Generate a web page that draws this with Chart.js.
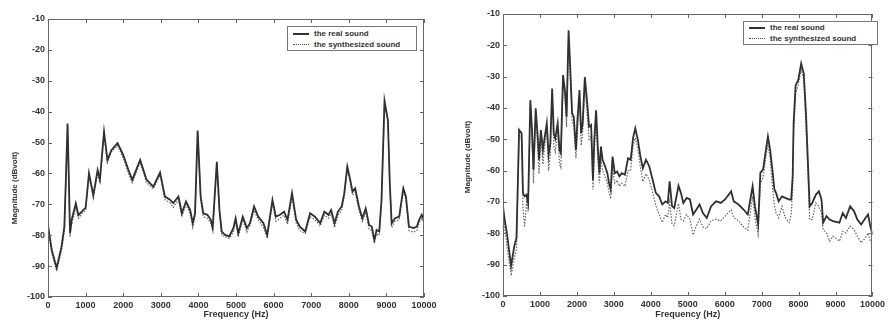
<!DOCTYPE html>
<html>
<head>
<meta charset="utf-8">
<script src="https://cdn.jsdelivr.net/npm/chart.js@4.4.0/dist/chart.umd.min.js"></script>
<style>
  body { margin: 0; background: #fff; width: 888px; height: 320px; overflow: hidden; position: relative;
         font-family: "Liberation Sans", Arial, sans-serif; }
  .panel { position: absolute; top: 0; height: 320px; }
  .ytitle { position: absolute; width: 120px; height: 10px; line-height: 10px; text-align: center;
            transform: rotate(-90deg); font-size: 8px; font-weight: bold; color: #333; white-space: nowrap; }
  .legend { position: absolute; background: #fff; border: 1px solid #777; font-size: 8px; font-weight: bold; color: #333; }
  .legend div { position: relative; height: 11px; line-height: 11px; padding-left: 26px; white-space: nowrap; }
  .legend span { position: absolute; left: 5px; top: 5px; width: 16px; height: 0; }
  .solid { border-top: 2px solid #333; }
  .dot { border-top: 1px dotted #555; }
</style>
</head>
<body>
<div class="panel" style="left:0;width:444px"><canvas id="leftChart" width="444" height="320"></canvas></div>
<div class="panel" style="left:450px;width:438px"><canvas id="rightChart" width="438" height="320"></canvas></div>

<div class="ytitle" style="left:-45px;top:183px">Magnitude (dBvolt)</div>
<div class="ytitle" style="left:408px;top:152px">Magnitude (dBvolt)</div>

<div class="legend" style="left:287px;top:26px;width:128px;height:23px">
  <div style="margin-top:1px"><span class="solid"></span>the real sound</div>
  <div><span class="dot"></span>the synthesized sound</div>
</div>
<div class="legend" style="left:743px;top:21px;width:133px;height:22px">
  <div style="margin-top:0px"><span class="solid"></span>the real sound</div>
  <div><span class="dot"></span>the synthesized sound</div>
</div>

<script>
Chart.defaults.animation = false;

// ---- left panel ----
const leftFreq = [
  0, 100, 230, 360, 435, 475, 520, 555, 585, 630,
  740, 810, 940, 1000, 1090, 1205, 1320, 1380, 1490, 1580,
  1690, 1850, 2000, 2140, 2240, 2450, 2620, 2800, 2980, 3110,
  3245, 3330, 3470, 3560, 3670, 3780, 3850, 3910, 3980, 4060,
  4130, 4240, 4330, 4380, 4490, 4560, 4620, 4710, 4820, 4930,
  4990, 5060, 5180, 5290, 5370, 5480, 5590, 5730, 5830, 5970,
  6060, 6170, 6280, 6370, 6490, 6600, 6700, 6840, 6970, 7100,
  7240, 7350, 7460, 7530, 7620, 7710, 7810, 7880, 7960, 8030,
  8100, 8170, 8270, 8360, 8450, 8540, 8610, 8680, 8740, 8810,
  8870, 8950, 9040, 9090, 9140, 9230, 9340, 9450, 9520, 9600,
  9720, 9810, 9870, 9940, 10000
];
const leftReal = [
  -76.7, -84.8, -90.6, -83.7, -77.2, -62, -43.8, -62, -79.3, -75,
  -69.7, -73.5, -71.8, -71.2, -59.9, -67, -58.9, -62, -46.5, -55.6,
  -52.4, -50.2, -54, -58.9, -62.1, -55.6, -62, -64.3, -59.7, -67.5,
  -68.5, -69.6, -67.5, -72.9, -69.1, -71.8, -76.1, -72.9, -46.1, -67.5,
  -72.9, -73.4, -75, -77.7, -56.2, -71.8, -78.8, -79.9, -80.4, -77.7,
  -74.5, -79.4, -74, -77.7, -76.1, -70.7, -74, -76.1, -79.9, -68.6,
  -74, -73.4, -72.4, -75, -66.4, -75, -77.2, -78.8, -72.9, -74,
  -76.1, -72.4, -73.4, -71.8, -76.1, -72.4, -70.7, -66.4, -57.8, -61.6,
  -65.9, -64.8, -70.7, -74.5, -71.3, -76.7, -77.2, -81.5, -78.3, -78.8,
  -68.6, -36.5, -42.7, -63.2, -76.1, -74.5, -74, -64.8, -67.5, -77.2,
  -77.7, -77.2, -75, -73.4, -75
];
const leftSynth = [
  -77.5, -86, -91.5, -85, -79, -63, -44.5, -63, -80.5, -76.5,
  -71, -74.5, -72.5, -72, -61, -68, -60, -63, -47.5, -56.5,
  -53, -51, -55, -60, -63, -56.5, -63, -65, -60.5, -68.5,
  -69.5, -71, -68.5, -74, -70, -73, -77.5, -74, -47, -68.5,
  -74, -74.5, -76, -78.5, -57, -73, -80, -80.5, -81, -79,
  -75.5, -80.5, -75, -79, -77, -72, -75, -77.5, -81, -69.5,
  -75.5, -74.5, -73.5, -76.5, -67.5, -76, -78.5, -79.5, -74, -75,
  -77, -73.5, -74.5, -73, -77.5, -73.5, -72, -67.5, -58.5, -62.5,
  -67, -66, -72, -75.5, -72.5, -78, -78.5, -82.5, -79.5, -80,
  -69.5, -37.5, -43.5, -64, -77.5, -75.5, -75, -65.5, -68.5, -78.5,
  -79, -78.5, -76, -74.5, -76
];

// ---- right panel ----
const rightFreq = [
  0, 45, 105, 220, 305, 365, 410, 435, 505, 540,
  585, 635, 680, 740, 785, 825, 885, 940, 975, 1025,
  1080, 1130, 1185, 1235, 1280, 1330, 1375, 1415, 1480, 1530,
  1565, 1625, 1680, 1720, 1775, 1815, 1870, 1915, 1975, 2015,
  2070, 2115, 2155, 2215, 2280, 2330, 2385, 2435, 2470, 2520,
  2565, 2610, 2650, 2695, 2765, 2825, 2870, 2915, 2965, 3025,
  3090, 3150, 3215, 3300, 3385, 3455, 3520, 3580, 3650, 3720,
  3785, 3870, 3960, 4050, 4135, 4225, 4310, 4400, 4460, 4510,
  4575, 4635, 4750, 4815, 4880, 4970, 5060, 5145, 5235, 5320,
  5410, 5515, 5630, 5765, 5895, 6010, 6175, 6245, 6375, 6510,
  6625, 6755, 6820, 6905, 6965, 7040, 7110, 7170, 7230, 7300,
  7345, 7390, 7460, 7550, 7640, 7745, 7800, 7840, 7865, 7920,
  7990, 8070, 8140, 8200, 8250, 8300, 8370, 8465, 8550, 8620,
  8665, 8755, 8840, 8930, 9105, 9195, 9280, 9395, 9500, 9590,
  9695, 9810, 9880, 9940, 10000
];
const rightReal = [
  -71.4, -75.6, -79.9, -90.4, -84.1, -81.4, -59.7, -47, -48.1, -67.1,
  -68.2, -67.7, -70.3, -37.5, -47, -59.7, -40.1, -49.1, -56.5, -47,
  -53.4, -49.1, -44.9, -55, -51.3, -33.8, -48.1, -49.7, -44.9, -53.4,
  -54.4, -29.5, -34.8, -42.8, -15.2, -25.8, -41.7, -42.8, -53.4, -43.8,
  -34.3, -48.1, -44.9, -30.1, -38.5, -46, -45.4, -63, -50.2, -40.7,
  -52.3, -60.8, -52.3, -56.5, -58.7, -60.8, -64, -66, -55.5, -60.8,
  -60.3, -61.8, -60.8, -61.3, -56, -56.5, -49.6, -46.5, -50.2, -55.5,
  -59.2, -56.5, -58.7, -62.9, -67.1, -68.2, -70.8, -69.8, -70.3, -63.4,
  -71.3, -71.9, -64.8, -67.1, -70.3, -68.7, -69.2, -74, -72.4, -70.8,
  -73.5, -75.1, -71.4, -69.8, -70.3, -69.2, -66.6, -69.8, -70.8, -72.4,
  -74, -65, -71.4, -77.2, -60.7, -59.6, -53.8, -49.1, -53.4, -60.7,
  -66, -67.1, -69.8, -68.2, -68.7, -69.2, -69.2, -61.8, -44.9, -32.7,
  -31.1, -25.8, -29, -41.7, -56.5, -71.4, -70.3, -67.7, -66.6, -69.2,
  -76.6, -74.5, -75.6, -76.1, -76.6, -73.5, -75.1, -71.4, -72.9, -75.6,
  -77.2, -75.1, -74, -77.7, -80.4
];
const rightSynth = [
  -73, -78, -84, -93.5, -88, -85, -62, -48.5, -50, -72,
  -78, -70, -73, -39, -50, -64, -42, -53, -61, -49,
  -58, -52, -47, -60, -55, -36, -52, -54, -47, -58,
  -59, -31, -37, -46, -18, -28, -44, -46, -56, -47,
  -37, -52, -48, -33, -42, -50, -49, -66, -54, -44,
  -56, -64, -56, -60, -62, -64, -67, -69, -59, -64,
  -63, -65, -64, -65, -60, -60, -52, -49.5, -53, -59,
  -63.5, -61, -63, -67, -71, -74, -76.5, -74, -75, -70,
  -77, -77.5, -70.5, -75.5, -76, -74, -75.5, -80.5, -77.5, -75.5,
  -78, -78.5, -76, -75.5, -76, -74.5, -72.5, -75, -76, -78,
  -79, -68.2, -75, -80.4, -64.4, -62, -56, -51.8, -56, -66,
  -71, -73.5, -75, -71.4, -75, -76.6, -74, -66, -48, -35.3,
  -32.6, -27.8, -31, -45.8, -60, -75.6, -75.6, -70.3, -71.4, -73.5,
  -78.8, -79.9, -82.5, -80.9, -82.5, -79.4, -79.9, -77.7, -78.8, -80.9,
  -83, -81.4, -79.9, -82.5, -83.5
];

const xTicks = [0, 1000, 2000, 3000, 4000, 5000, 6000, 7000, 8000, 9000, 10000];
const yTicks = [-100, -90, -80, -70, -60, -50, -40, -30, -20, -10];

// frame box with inward tick marks, like matlab axes
const frameTicks = {
  id: 'frameTicks',
  afterDraw(chart) {
    const { ctx, chartArea: a, scales: { x, y } } = chart;
    ctx.save();
    ctx.strokeStyle = '#666';
    ctx.lineWidth = 1;
    ctx.strokeRect(Math.round(a.left) + 0.5, Math.round(a.top) + 0.5,
                   Math.round(a.width) - 1, Math.round(a.height) - 1);
    ctx.beginPath();
    xTicks.forEach(v => {
      const px = Math.round(x.getPixelForValue(v)) + 0.5;
      ctx.moveTo(px, a.bottom); ctx.lineTo(px, a.bottom - 4);
      ctx.moveTo(px, a.top); ctx.lineTo(px, a.top + 4);
    });
    yTicks.forEach(v => {
      const py = Math.round(y.getPixelForValue(v)) + 0.5;
      ctx.moveTo(a.left, py); ctx.lineTo(a.left + 4, py);
      ctx.moveTo(a.right, py); ctx.lineTo(a.right - 4, py);
    });
    ctx.stroke();
    ctx.restore();
  }
};

function pairs(fs, vs) {
  return fs.map((f, i) => ({ x: f, y: vs[i] }));
}

function makeChart(id, freq, real, synth, yWidth, padTop, padRight, xHeight) {
  const tickFont = { family: 'Liberation Sans', size: 9, weight: 'bold' };
  return new Chart(document.getElementById(id), {
    type: 'line',
    data: {
      datasets: [
        {
          label: 'the real sound',
          data: pairs(freq, real),
          borderColor: '#303030',
          borderWidth: 1.8,
          pointRadius: 0,
          tension: 0
        },
        {
          label: 'the synthesized sound',
          data: pairs(freq, synth),
          borderColor: '#666',
          borderWidth: 1.2,
          borderDash: [1.5, 1.5],
          pointRadius: 0,
          tension: 0
        }
      ]
    },
    options: {
      responsive: false,
      layout: { padding: { top: padTop, right: padRight, left: 0, bottom: 0 } },
      plugins: { legend: { display: false }, tooltip: { enabled: false } },
      scales: {
        x: {
          type: 'linear', min: 0, max: 10000,
          afterBuildTicks: s => { s.ticks = xTicks.map(v => ({ value: v })); },
          afterFit: s => { s.height = xHeight; },
          grid: { display: false, drawTicks: false },
          border: { display: false },
          ticks: { color: '#333', font: tickFont, padding: 3, maxRotation: 0, autoSkip: false,
                   callback: v => String(v) },
          title: { display: true, text: 'Frequency (Hz)', color: '#333',
                   font: { family: 'Liberation Sans', size: 9, weight: 'bold' }, padding: 0 }
        },
        y: {
          min: -100, max: -10,
          afterBuildTicks: s => { s.ticks = yTicks.map(v => ({ value: v })); },
          afterFit: s => { s.width = yWidth; },
          grid: { display: false, drawTicks: false },
          border: { display: false },
          ticks: { color: '#333', font: tickFont, padding: 3, callback: v => String(v) }
        }
      }
    },
    plugins: [frameTicks]
  });
}

makeChart('leftChart', leftFreq, leftReal, leftSynth, 48, 19, 20, 23);
makeChart('rightChart', rightFreq, rightReal, rightSynth, 53, 14, 5, 24);
</script>
</body>
</html>
